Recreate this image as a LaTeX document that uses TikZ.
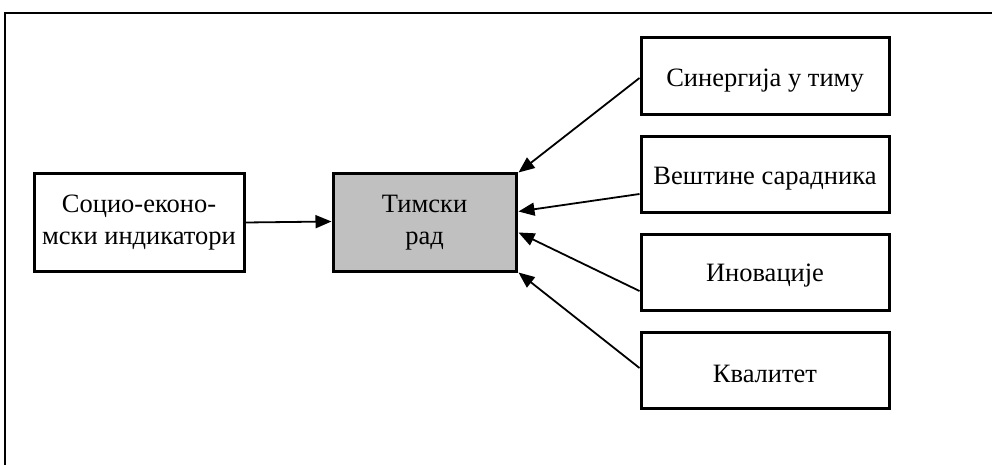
\documentclass[tikz,border=0pt]{standalone}
\usepackage{fontspec}
\setmainfont{Liberation Serif}
\usetikzlibrary{arrows.meta}
\begin{document}
\begin{tikzpicture}[x=1pt,y=-1pt,
  box/.style={draw=black, line width=3pt, inner sep=0pt, align=center,
    font=\fontsize{26.5}{32}\selectfont, execute at begin node={\rule{0pt}{25pt}}},
  tall/.style={execute at begin node={\rule{0pt}{33pt}}},
  arr/.style={line width=1.8pt, -{Triangle[length=16pt,width=13pt]}}]
\useasboundingbox (0,0) rectangle (992,465);
\draw[line width=2pt] (5,465) coordinate (fb) -- (5,13) coordinate (ft) -- (992,13) coordinate (fr);
\node[box, tall, minimum width=210pt, minimum height=97pt] (L) at (139,222.5) {Социо-еконо-\\мски индикатори};
\node[box, tall, fill={rgb,255:red,192;green,192;blue,192}, minimum width=183pt, minimum height=97pt] (C) at (424.5,222.5) {Тимски\\рад};
\node[box, minimum width=248pt, minimum height=77pt] (R1) at (765,76.5) {Синергија у тиму};
\node[box, minimum width=248pt, minimum height=75pt] (R2) at (765,174.5) {Вештине сарадника};
\node[box, minimum width=248pt, minimum height=76pt] (R3) at (765,272) {Иновације};
\node[box, minimum width=248pt, minimum height=76pt] (R4) at (765,370) {Квалитет};
\draw[arr] (L.east) -- ([yshift=1pt]C.west);
\draw[arr] ([yshift=-1.5pt]R1.west) -- ([xshift=1pt]C.north east);
\draw[arr] ([yshift=-19.5pt]R2.west) -- ([xshift=1pt,yshift=-39pt]C.north east);
\draw[arr] ([yshift=-19pt]R3.west) -- ([xshift=1pt,yshift=-60pt]C.north east);
\draw[arr] ([yshift=2pt]R4.west) -- ([xshift=1pt]C.south east);
\end{tikzpicture}
\end{document}
